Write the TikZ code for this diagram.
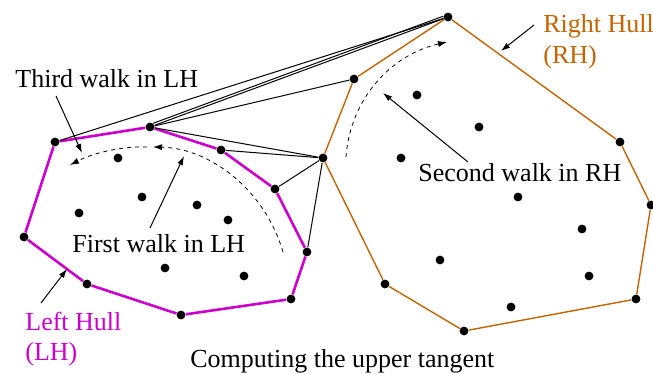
\documentclass[tikz,border=0pt]{standalone}
\usepackage{fontspec}
\setmainfont{Liberation Serif}
\usetikzlibrary{arrows.meta}
\definecolor{lhcol}{RGB}{204,0,204}
\definecolor{rhcol}{RGB}{196,100,0}
\tikzset{dot/.style={circle,fill=black,draw=none,inner sep=0pt,minimum size=4.4pt},
  lhull/.style={lhcol,line width=1.3pt},
  rhull/.style={rhcol,line width=0.7pt},
  tangent/.style={black,line width=0.5pt},
  walk/.style={black,line width=0.4pt,dash pattern=on 2pt off 2pt,-{Latex[length=4.5pt,width=3pt]}},
  pointer/.style={black,line width=0.5pt,-{Latex[length=4.5pt,width=3pt]}},
  lbl/.style={inner sep=0pt,anchor=base west,font=\fontsize{13}{15}\selectfont}}
\begin{document}
\begin{tikzpicture}[x=0.5pt,y=-0.5pt]
  \useasboundingbox (0,0) rectangle (653,374);
  \node[dot] (l1) at ( 55,142) {};
  \node[dot] (l2) at (150,127) {};
  \node[dot] (l3) at (221,150) {};
  \node[dot] (l4) at (275,189) {};
  \node[dot] (l5) at (307,252) {};
  \node[dot] (l6) at (291,299) {};
  \node[dot] (l7) at (181,315) {};
  \node[dot] (l8) at ( 87,284) {};
  \node[dot] (l9) at ( 24,237) {};
  \node[dot] (r1) at (448, 17) {};
  \node[dot] (r2) at (620,142) {};
  \node[dot] (r3) at (651,205) {};
  \node[dot] (r4) at (636,299) {};
  \node[dot] (r5) at (464,331) {};
  \node[dot] (r6) at (385,284) {};
  \node[dot] (r7) at (323,158) {};
  \node[dot] (r8) at (354, 79) {};
  \foreach \x/\y [count=\i] in {118/158,142/197,79/213,197/205,228/220,165/268,244/276}
    \node[dot] (lp\i) at (\x,\y) {};
  \foreach \x/\y [count=\i] in {417/95,479/127,401/158,518/197,582/229,440/260,589/276,511/307}
    \node[dot] (rp\i) at (\x,\y) {};
  \draw[lhull] (l1) -- (l2) -- (l3) -- (l4) -- (l5) -- (l6) -- (l7) -- (l8) -- (l9) -- (l1);
  \draw[rhull] (r1) -- (r2) -- (r3) -- (r4) -- (r5) -- (r6) -- (r7) -- (r8) -- (r1);
  \draw[tangent] (l1) -- (r1);
  \draw[tangent] (l2) -- (r1);
  \draw[tangent] (l2.50) -- (r1.170);
  \draw[tangent] (l2) -- (r8);
  \draw[tangent] (l2) -- (r7);
  \draw[tangent] (l3) -- (r7);
  \draw[tangent] (l4) -- (r7);
  \draw[tangent] (l5) -- (r7);
  \coordinate (fw0) at (283,252);
  \coordinate (fw1) at (153,147);
  \coordinate (tw0) at (147,147);
  \coordinate (tw1) at ( 70,165);
  \coordinate (sw0) at (346,157);
  \coordinate (sw1) at (447, 42);
  \draw[walk] (fw0) .. controls (265,190) and (210,148) .. (fw1);
  \draw[walk] (tw0) .. controls (125,146) and (95,152) .. (tw1);
  \draw[walk] (sw0) .. controls (350,100) and (390,55) .. (sw1);
  \node[lbl] (third) at (15,88) {Third walk in LH};
  \node[lbl] (first) at (72,252) {First walk in LH};
  \node[lbl] (second) at (418,181) {Second walk in RH};
  \node[lbl,rhcol] (rhname) at (543,33) {Right Hull};
  \node[lbl,rhcol] (rhabbr) at (543,64) {(RH)};
  \node[lbl,lhcol] (lhname) at (25,330) {Left Hull};
  \node[lbl,lhcol] (lhabbr) at (25,360) {(LH)};
  \node[lbl] (caption) at (190,367) {Computing the upper tangent};
  \coordinate (thirdtail) at ( 56, 96);
  \coordinate (thirdtip)  at ( 82,153);
  \coordinate (firsttail) at (150,228);
  \coordinate (firsttip)  at (184,156);
  \coordinate (secondtail) at (468,162);
  \coordinate (secondtip)  at (383, 93);
  \coordinate (rhtail) at (534, 25);
  \coordinate (rhtip)  at (501, 51);
  \coordinate (lhtail) at ( 41,303);
  \coordinate (lhtip)  at ( 67,269);
  \draw[pointer] (thirdtail) -- (thirdtip);
  \draw[pointer] (firsttail) -- (firsttip);
  \draw[pointer] (secondtail) -- (secondtip);
  \draw[pointer] (rhtail) -- (rhtip);
  \draw[pointer] (lhtail) -- (lhtip);
\end{tikzpicture}
\end{document}
